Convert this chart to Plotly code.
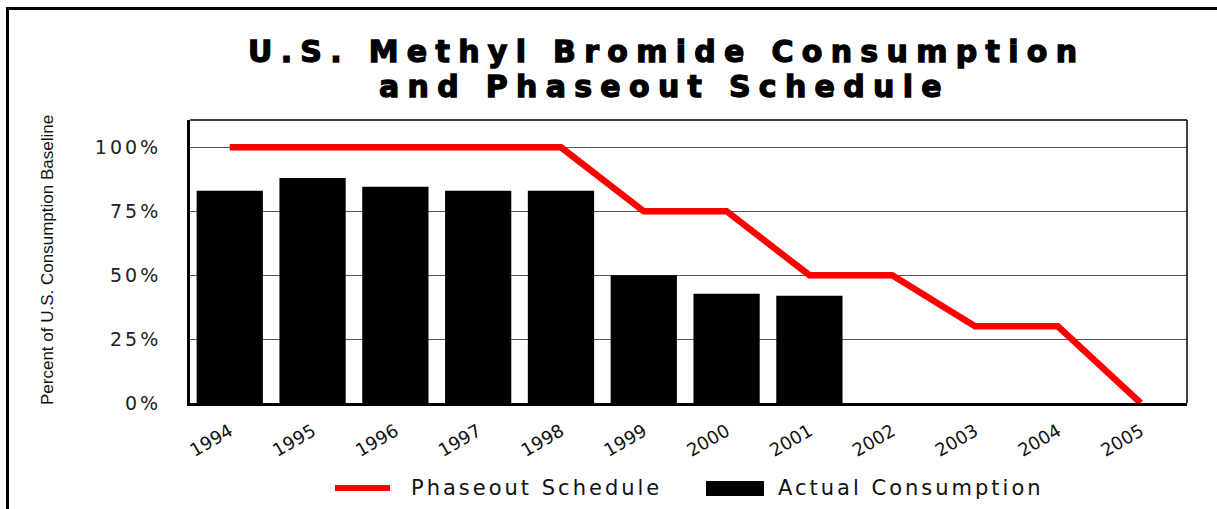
import plotly.graph_objects as go

years = ["1994", "1995", "1996", "1997", "1998", "1999", "2000", "2001",
         "2002", "2003", "2004", "2005"]
actual_years = ["1994", "1995", "1996", "1997", "1998", "1999", "2000", "2001"]
actual_consumption = [83, 88, 84.6, 83, 83, 50, 42.7, 42]
phaseout_schedule = [100, 100, 100, 100, 100, 75, 75, 50, 50, 30, 30, 0]
y_ticks = [0, 25, 50, 75, 100]
y_tick_labels = ["0%", "25%", "50%", "75%", "100%"]

W, H = 1217, 509
ML, MR, MT, MB = 190, 30, 120, 106
PW, PH = W - ML - MR, H - MT - MB


def px(x):
    return (x - ML) / PW


def py(y):
    return (H - MB - y) / PH


def spaced(s, sp, extra=""):
    return "<span style='letter-spacing:%spx;%s'>%s</span>" % (sp, extra, s)


fig = go.Figure()
fig.add_trace(go.Bar(
    x=actual_years, y=actual_consumption, name="Actual Consumption",
    marker=dict(color="#000000", line=dict(width=0)), width=0.8,
    showlegend=False,
))
fig.add_trace(go.Scatter(
    x=years, y=phaseout_schedule, name="Phaseout Schedule", mode="lines",
    line=dict(color="#ff0000", width=6.5), showlegend=False,
))

shapes = [
    # top and right frame of plot area
    dict(type="line", xref="paper", yref="paper", x0=0, x1=1, y0=1, y1=1,
         line=dict(color="#000", width=1.5)),
    dict(type="line", xref="paper", yref="paper", x0=1, x1=1, y0=0, y1=1,
         line=dict(color="#000", width=1.5)),
    # outer image frame (top and left)
    dict(type="line", xref="paper", yref="paper", x0=px(6), x1=px(1217), y0=py(8.5), y1=py(8.5),
         line=dict(color="#000", width=3)),
    dict(type="line", xref="paper", yref="paper", x0=px(7.5), x1=px(7.5), y0=py(7), y1=py(509),
         line=dict(color="#000", width=3)),
    # legend symbols
    dict(type="line", xref="paper", yref="paper", x0=px(335), x1=px(390), y0=py(488), y1=py(488),
         line=dict(color="#ff0000", width=6)),
    dict(type="rect", xref="paper", yref="paper", x0=px(706), x1=px(764), y0=py(481), y1=py(496),
         fillcolor="#000", line=dict(width=0)),
]

title_font = dict(family="DejaVu Sans", size=30, color="#000", weight="bold")
title_extra = "stroke:#000;stroke-width:1.3px"
annotations = [
    dict(text=spaced("U.S. Methyl Bromide Consumption", 8.3, title_extra), xref="paper", yref="paper",
         x=px(666), y=py(51), xanchor="center", yanchor="middle", showarrow=False,
         font=title_font),
    dict(text=spaced("and Phaseout Schedule", 8.3, title_extra), xref="paper", yref="paper",
         x=px(664), y=py(86.5), xanchor="center", yanchor="middle", showarrow=False,
         font=title_font),
    dict(text="Percent of U.S. Consumption Baseline", xref="paper", yref="paper",
         x=px(47), y=py(260), xanchor="center", yanchor="middle", showarrow=False,
         textangle=-90,
         font=dict(family="Liberation Sans", size=17, color="#111")),
    dict(text=spaced("Phaseout Schedule", 3), xref="paper", yref="paper",
         x=px(409), y=py(488), xanchor="left", yanchor="middle", showarrow=False,
         font=dict(family="DejaVu Sans", size=21, color="#111")),
    dict(text=spaced("Actual Consumption", 3), xref="paper", yref="paper",
         x=px(776), y=py(488), xanchor="left", yanchor="middle", showarrow=False,
         font=dict(family="DejaVu Sans", size=21, color="#111")),
]

fig.update_layout(
    width=W, height=H,
    margin=dict(l=ML, r=MR, t=MT, b=MB, autoexpand=False),
    paper_bgcolor="#ffffff", plot_bgcolor="#ffffff",
    showlegend=False, bargap=0.2,
    shapes=shapes, annotations=annotations,
    font=dict(family="DejaVu Sans", color="#111"),
)
fig.update_xaxes(
    type="category", categoryorder="array", categoryarray=years,
    range=[-0.48, 11.56], showgrid=False, showline=True, linecolor="#000", linewidth=3,
    ticks="", tickangle=-30, tickfont=dict(family="DejaVu Sans", size=18, color="#111"),
    ticklabelstandoff=8, zeroline=False,
)
fig.update_yaxes(
    range=[0, 110.7], tickvals=y_ticks, ticktext=[spaced(t, 3) for t in y_tick_labels],
    showgrid=True, gridcolor="#555", gridwidth=1.2,
    showline=True, linecolor="#000", linewidth=3, ticks="",
    tickfont=dict(family="DejaVu Sans", size=19, color="#222"),
    ticklabelstandoff=22, zeroline=False,
)

fig.write_html("out.html", config={"displayModeBar": False},
               post_script="document.body.style.margin='0px';")
